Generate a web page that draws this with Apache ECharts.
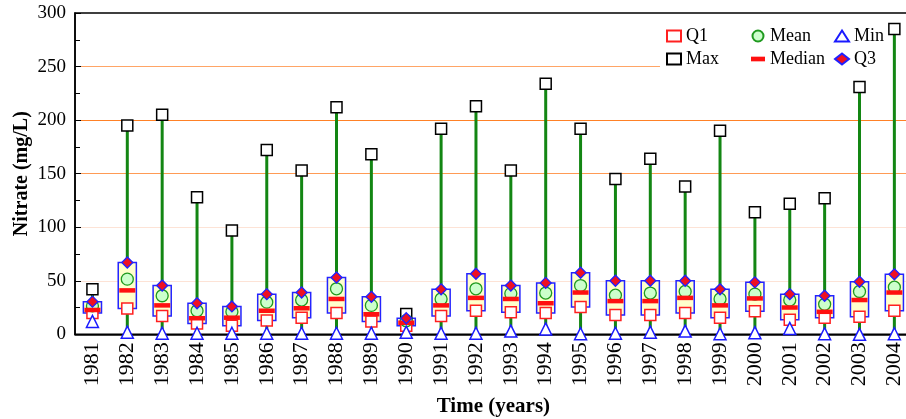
<!DOCTYPE html>
<html>
<head>
<meta charset="utf-8">
<script src="https://cdn.jsdelivr.net/npm/echarts@6/dist/echarts.min.js"></script>
<style>
  html, body { margin: 0; padding: 0; background: #fff; }
  #chart { width: 906px; height: 419px; }
</style>
</head>
<body>
<div id="chart"></div>
<script>
// Yearly nitrate statistics (mg/L)
const years = ['1981','1982','1983','1984','1985','1986','1987','1988','1989','1990','1991','1992',
               '1993','1994','1995','1996','1997','1998','1999','2000','2001','2002','2003','2004'];
const minVals    = [12, 2, 1, 1, 1, 1, 1, 1, 1, 2, 1, 1, 3, 5, 0.5, 1, 2, 3, 0.5, 1.5, 5.5, 0.5, 0, 0.5];
const q1Vals     = [20, 24, 17, 10, 8, 13, 15.5, 20, 12, 8, 17, 22, 20.5, 20, 25.5, 18, 18, 20, 15.5, 21.5, 13.5, 15.5, 16.5, 22];
const medianVals = [22.7, 41, 27, 15, 15.5, 22, 24.3, 33, 18.7, 10.8, 27, 34, 33, 29, 39, 31, 31, 34, 27, 33.5, 25, 21, 32, 39];
const meanVals   = [26.5, 51.5, 36, 22, 21, 30, 32, 42.5, 27, 12.7, 33, 42.5, 38, 38.5, 45.5, 36.5, 38.5, 40, 33, 37.5, 32, 28, 40, 44];
const q3Vals     = [30.5, 67, 45.5, 29, 26, 37.5, 39, 53, 35, 15, 42, 56.5, 45.5, 48, 57.5, 50, 50, 50, 42, 48.5, 37.5, 36, 49, 56];
const maxVals    = [42, 195, 205, 128, 97, 172, 153, 212, 168, 19, 192, 213, 153, 234, 192, 145, 164, 138, 190, 114, 122, 127, 231, 285];
const yTicks     = [0, 50, 100, 150, 200, 250, 300];

const FONT = 'Liberation Serif';

const boxData = years.map((y, i) => [i, minVals[i], q1Vals[i], medianVals[i], q3Vals[i], maxVals[i]]);

function boxRender(params, api) {
  const x = api.value(0);
  const pMin = api.coord([x, api.value(1)]);
  const pQ1 = api.coord([x, api.value(2)]);
  const pQ3 = api.coord([x, api.value(4)]);
  const pMax = api.coord([x, api.value(5)]);
  const w = api.size([1, 0])[0] * 0.52;
  return {
    type: 'group',
    children: [
      { type: 'line', shape: { x1: pMin[0], y1: pMin[1], x2: pMax[0], y2: pMax[1] },
        style: { stroke: '#138613', lineWidth: 3 } },
      { type: 'rect', shape: { x: pQ3[0] - w / 2, y: pQ3[1], width: w, height: pQ1[1] - pQ3[1] },
        style: { fill: '#ffffcc', stroke: '#2424ff', lineWidth: 1.5 } }
    ]
  };
}

const legendBase = {
  orient: 'vertical', top: 27, padding: 0, itemGap: 5,
  itemWidth: 14, itemHeight: 11,
  textStyle: { fontFamily: FONT, fontSize: 18, color: '#000', lineHeight: 18 },
  selectedMode: false
};

const option = {
  animation: false,
  backgroundColor: '#fff',
  graphic: [{
    type: 'rect', z: 1, silent: true,
    left: 660, top: 20,
    shape: { width: 250, height: 56 },
    style: { fill: '#fff' }
  }],
  legend: [
    Object.assign({}, legendBase, { left: 666, data: ['Q1', 'Max'] }),
    Object.assign({}, legendBase, { left: 751, data: ['Mean', { name: 'Median', icon: 'path://M0,0H12V4H0Z' }] }),
    Object.assign({}, legendBase, { left: 834, data: ['Min', 'Q3'] })
  ],
  grid: {
    left: 75, top: 13, width: 836.8, bottom: 84.7,
    outerBoundsMode: 'none', containLabel: false,
    show: true, borderColor: '#000', borderWidth: 1.5
  },
  xAxis: {
    type: 'category', data: years, boundaryGap: true,
    name: 'Time (years)', nameLocation: 'middle', nameGap: 62, nameMoveOverlap: false,
    nameTextStyle: { fontFamily: FONT, fontSize: 21, fontWeight: 'bold', color: '#000' },
    axisLine: { lineStyle: { color: '#000', width: 1.5 } },
    axisTick: { inside: true, length: 5, lineStyle: { color: '#000', width: 1 } },
    axisLabel: { rotate: 90, margin: 8, fontFamily: FONT, fontSize: 22, color: '#000' },
    splitLine: { show: false }
  },
  yAxis: {
    type: 'value', min: yTicks[0], max: yTicks[yTicks.length - 1], interval: 50,
    name: 'Nitrate (mg/L)', nameLocation: 'middle', nameGap: 43, nameRotate: 90, nameMoveOverlap: false,
    nameTextStyle: { fontFamily: FONT, fontSize: 20, fontWeight: 'bold', color: '#000' },
    axisLine: { show: true, lineStyle: { color: '#000', width: 1.5 } },
    axisTick: { show: true, inside: true, length: 6, lineStyle: { color: '#000', width: 1 } },
    minorTick: { show: true, splitNumber: 2, length: 5, lineStyle: { color: '#000', width: 1 } },
    axisLabel: { margin: 9, fontFamily: FONT, fontSize: 19, color: '#000' },
    splitLine: {
      show: true, showMinLine: true, showMaxLine: true,
      lineStyle: { width: 1.2, color: ['rgba(0,0,0,0)', '#fde3d6', '#fde3d6', '#ff9b55', '#ff8126', '#ffa566', 'rgba(0,0,0,0)'] }
    }
  },
  series: [
    { type: 'custom', name: 'box', renderItem: boxRender, data: boxData, z: 2, silent: true },
    { type: 'scatter', name: 'Max', data: maxVals, symbol: 'rect', symbolSize: 11, z: 3,
      itemStyle: { color: '#fff', borderColor: '#000', borderWidth: 1.5, opacity: 1 } },
    { type: 'scatter', name: 'Q1', data: q1Vals, symbol: 'rect', symbolSize: 11, z: 3,
      itemStyle: { color: '#fff', borderColor: '#ff2020', borderWidth: 1.5, opacity: 1 } },
    { type: 'scatter', name: 'Mean', data: meanVals, symbol: 'circle', symbolSize: 12, z: 3,
      itemStyle: { color: '#ccffcc', borderColor: '#1f9a1f', borderWidth: 1.3, opacity: 1 } },
    { type: 'scatter', name: 'Median', data: medianVals, symbol: 'rect', symbolSize: [16, 4.5], z: 3,
      itemStyle: { color: '#ff1010', opacity: 1 } },
    { type: 'scatter', name: 'Min', data: minVals, symbol: 'triangle', symbolSize: 12, z: 3,
      itemStyle: { color: '#fff', borderColor: '#1a1aff', borderWidth: 1.5, opacity: 1 } },
    { type: 'scatter', name: 'Q3', data: q3Vals, symbol: 'diamond', symbolSize: 11, z: 3,
      itemStyle: { color: '#ee1122', borderColor: '#2020ff', borderWidth: 1.3, opacity: 1 } }
  ]
};

const chart = echarts.init(document.getElementById('chart'), null, { renderer: 'canvas' });
chart.setOption(option);
</script>
</body>
</html>
